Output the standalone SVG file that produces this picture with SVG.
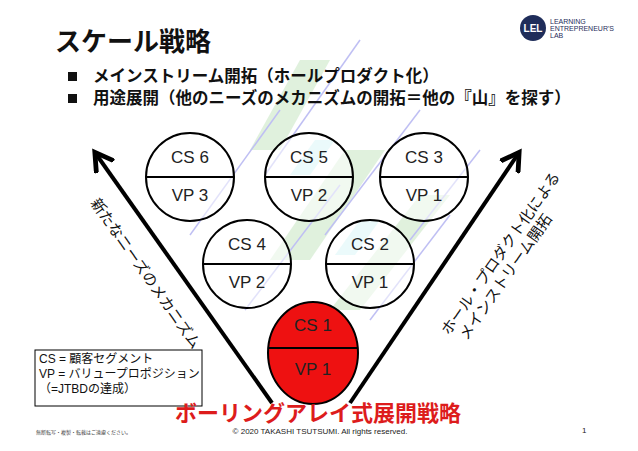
<svg xmlns="http://www.w3.org/2000/svg" width="638" height="451" viewBox="0 0 638 451">
<style>
.jp{font-family:"Liberation Sans","Noto Sans CJK JP",sans-serif}
.b{font-weight:bold}
.c{fill:#ffffff;fill-opacity:0.55;stroke:#000;stroke-width:2}
.lbl{font-family:"Liberation Sans",sans-serif;font-size:17px;text-anchor:middle;fill:#222}
.ax{stroke:#000;stroke-width:4;fill:none;marker-end:url(#ah)}
</style>
<defs>
<marker id="ah" markerWidth="6" markerHeight="6" refX="4" refY="3" orient="auto" markerUnits="strokeWidth"><path d="M0,0.3 L4.5,3 L0,5.7" fill="none" stroke="#000" stroke-width="1.2"/></marker>
</defs>
<rect width="638" height="451" fill="#fff"/>
<g id="background" opacity="0.35">
<polygon points="250,150 300,60 330,60 280,150" fill="#a8d8a0"/>
<polygon points="270,260 345,150 385,150 310,260" fill="#a8d8a0"/>
<polygon points="330,310 420,195 450,195 360,310" fill="#a8d8a0"/>
<polygon points="290,175 315,140 335,140 310,175" fill="#7fe0e8"/>
<polygon points="335,255 360,220 380,220 355,255" fill="#7fe0e8"/>
<line x1="265" y1="175" x2="360" y2="40" stroke="#4a4adf" stroke-width="1.5"/>
<line x1="325" y1="235" x2="420" y2="110" stroke="#4a4adf" stroke-width="1.5"/>
<line x1="190" y1="235" x2="280" y2="110" stroke="#4a4adf" stroke-width="1.5"/>
<line x1="410" y1="240" x2="480" y2="150" stroke="#4a4adf" stroke-width="1.5"/>
<line x1="245" y1="310" x2="340" y2="185" stroke="#4a4adf" stroke-width="1.5"/>
<line x1="370" y1="320" x2="450" y2="215" stroke="#4a4adf" stroke-width="1.5"/>
</g>
<g id="logo">
<circle cx="533" cy="28" r="13" fill="#1f2d5a"/>
<text x="533" y="32" class="jp b" font-size="10" fill="#fff" text-anchor="middle">LEL</text>
<text x="550" y="24" class="jp" font-size="7" fill="#1f2d5a">LEARNING</text>
<text x="550" y="31" class="jp" font-size="7" fill="#1f2d5a">ENTREPRENEUR'S</text>
<text x="550" y="38" class="jp" font-size="7" fill="#1f2d5a">LAB</text>
</g>
<text x="55" y="51" class="jp b" font-size="26" fill="#111">スケール戦略</text>
<g id="bullets" class="jp b" font-size="16.5" fill="#111">
<rect x="68" y="72" width="9" height="9" fill="#111"/>
<text x="93" y="82">メインストリーム開拓（ホールプロダクト化）</text>
<rect x="68" y="94" width="9" height="9" fill="#111"/>
<text x="93" y="104">用途展開（他のニーズのメカニズムの開拓＝他の『山』を探す）</text>
</g>
<g id="connectors">
<line class="ax" x1="272" y1="403" x2="96" y2="154"/>
<line class="ax" x1="350" y1="403" x2="518" y2="154"/>
</g>
<text class="jp" font-size="15" fill="#111" transform="translate(90,203) rotate(55)">新たなニーズのメカニズム</text>
<text class="jp" font-size="15" fill="#111" transform="translate(449,336) rotate(-55)">ホール・プロダクト化による</text>
<text class="jp" font-size="15" fill="#111" transform="translate(467,341) rotate(-55)">メインストリーム開拓</text>
<g id="cs6"><circle class="c" cx="190" cy="177" r="44"/><line x1="146" y1="177" x2="234" y2="177" stroke="#000" stroke-width="2"/><text class="lbl" x="190" y="163">CS 6</text><text class="lbl" x="190" y="201">VP 3</text></g>
<g id="cs5"><circle class="c" cx="309" cy="177" r="44"/><line x1="265" y1="177" x2="353" y2="177" stroke="#000" stroke-width="2"/><text class="lbl" x="309" y="163">CS 5</text><text class="lbl" x="309" y="201">VP 2</text></g>
<g id="cs3"><circle class="c" cx="424" cy="177" r="44"/><line x1="380" y1="177" x2="468" y2="177" stroke="#000" stroke-width="2"/><text class="lbl" x="424" y="163">CS 3</text><text class="lbl" x="424" y="201">VP 1</text></g>
<g id="cs4"><circle class="c" cx="247" cy="264" r="44"/><line x1="203" y1="264" x2="291" y2="264" stroke="#000" stroke-width="2"/><text class="lbl" x="247" y="250">CS 4</text><text class="lbl" x="247" y="288">VP 2</text></g>
<g id="cs2"><circle class="c" cx="370" cy="264" r="44"/><line x1="326" y1="264" x2="414" y2="264" stroke="#000" stroke-width="2"/><text class="lbl" x="370" y="250">CS 2</text><text class="lbl" x="370" y="288">VP 1</text></g>
<g id="cs1"><ellipse cx="313" cy="353" rx="45" ry="51" fill="#ee1111" stroke="#000" stroke-width="2"/><line x1="268" y1="348" x2="358" y2="348" stroke="#000" stroke-width="2"/><text class="lbl" x="313" y="331">CS 1</text><text class="lbl" x="313" y="375">VP 1</text></g>
<g id="legend">
<rect x="35" y="350" width="167" height="56" fill="#fff" stroke="#000" stroke-width="1"/>
<text class="jp" font-size="12" fill="#111" x="39" y="363">CS = 顧客セグメント</text>
<text class="jp" font-size="12" fill="#111" x="39" y="378">VP = バリュープロポジション</text>
<text class="jp" font-size="12" fill="#111" x="39" y="393">（=JTBDの達成）</text>
</g>
<text x="318" y="421" class="jp b" font-size="22" fill="#dd1c1c" text-anchor="middle">ボーリングアレイ式展開戦略</text>
<text x="320" y="434" class="jp" font-size="8" fill="#222" text-anchor="middle">© 2020 TAKASHI TSUTSUMI. All rights reserved.</text>
<text x="582" y="433" class="jp" font-size="8" fill="#222">1</text>
<text x="36" y="434" class="jp" font-size="5" fill="#444">無断転写・複製・転載はご遠慮ください。</text>
</svg>
